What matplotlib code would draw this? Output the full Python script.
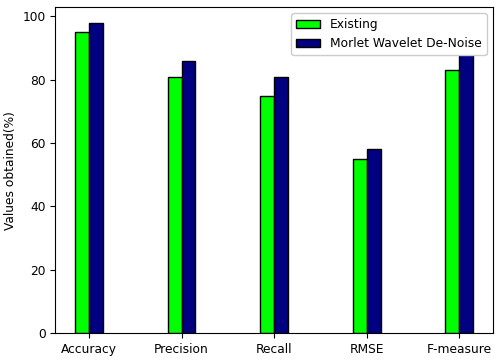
import numpy as np
import matplotlib
matplotlib.use('Agg')
import matplotlib.pyplot as plt

plt.rcParams['font.size'] = 8.8

metrics = ['Accuracy', 'Precision', 'Recall', 'RMSE', 'F-measure']
existing = [95, 81, 75, 55, 83]
morlet = [98, 86, 81, 58, 90]

x = np.arange(len(metrics))
width = 0.15

fig, ax = plt.subplots(figsize=(5.03, 3.59), dpi=100)
ax.bar(x - width / 2, existing, width, color='lime', edgecolor='black', label='Existing')
ax.bar(x + width / 2, morlet, width, color='navy', edgecolor='black', label='Morlet Wavelet De-Noise')
ax.set_xticks(x)
ax.set_xticklabels(metrics)
ax.set_ylabel('Values obtained(%)')
ax.legend(loc='upper right', framealpha=1)
fig.subplots_adjust(left=0.11, right=0.98, top=0.98, bottom=0.072)
fig.savefig('out.png')
